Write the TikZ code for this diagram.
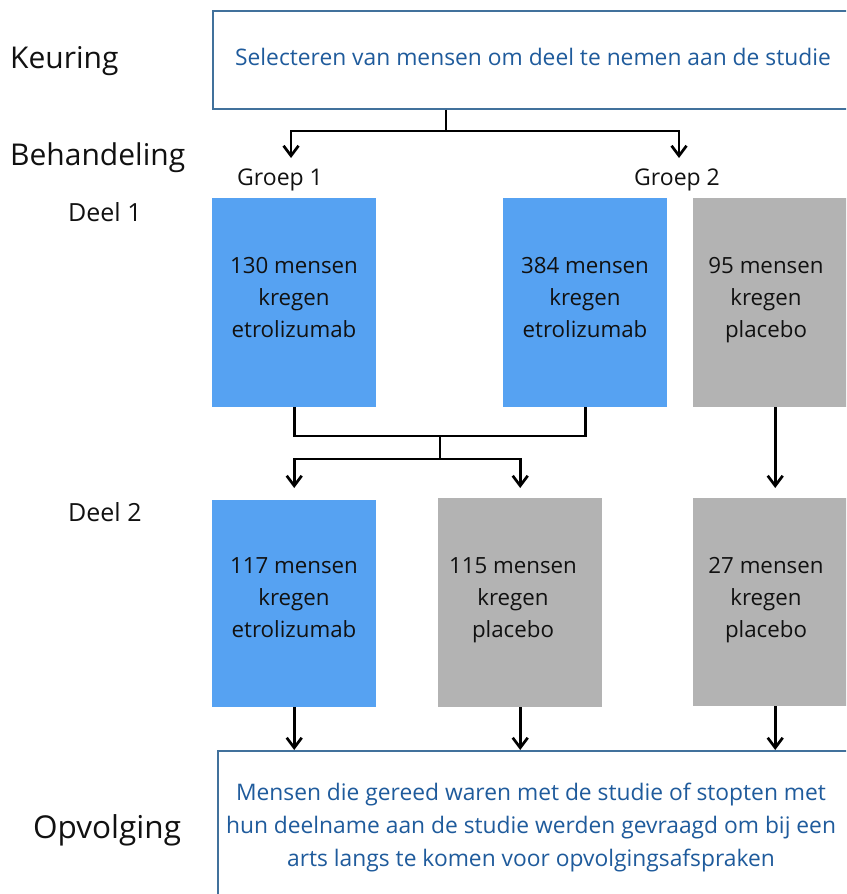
\documentclass[tikz,border=0pt]{standalone}
\usepackage{fontspec}
\setmainfont{Open Sans}
\usetikzlibrary{arrows.meta}
\definecolor{bluebox}{HTML}{56A2F2}
\definecolor{graybox}{HTML}{B3B3B3}
\definecolor{frame}{HTML}{41719C}
\definecolor{bluetext}{HTML}{1F5B9C}
\definecolor{ink}{HTML}{111111}
\begin{document}
\begin{tikzpicture}[x=1pt,y=-1pt,
  bbox/.style={fill=bluebox, minimum width=164pt, minimum height=209pt, inner sep=0pt, anchor=north west},
  gbox/.style={fill=graybox, minimum width=164pt, minimum height=209pt, inner sep=0pt, anchor=north west},
  frbox/.style={draw=frame, line width=1.6pt, fill=white, inner sep=0pt, anchor=north west},
  boxtxt/.style={text=ink, align=center, inner sep=0pt, font=\fontsize{22.3}{32}\selectfont},
  bluetxt/.style={text=bluetext, align=center, inner sep=0pt, font=\fontsize{22.8}{33}\selectfont},
  biglbl/.style={text=ink, anchor=west, inner sep=0pt, font=\fontsize{30}{34}\selectfont},
  smlbl/.style={text=ink, anchor=west, inner sep=0pt, font=\fontsize{23}{26}\selectfont},
  conn/.style={line width=2.7pt, draw=black},
  arr/.style={conn, -{Straight Barb[length=10pt,width=15pt,line width=2.7pt]}}
]
\useasboundingbox (0,0) rectangle (846,894);
\clip (0,0) rectangle (846,894);
\fill[white] (0,0) rectangle (846,894);

% top box
\node[frbox, minimum width=660pt, minimum height=98pt] (top) at (212,10) {};
\node[bluetxt] (toptxt) at (533,57) {Selecteren van mensen om deel te nemen aan de studie};

% labels
\node[biglbl] (keuring) at (10,61) {Keuring};
\node[biglbl] (behandeling) at (10,158) {Behandeling};
\node[smlbl] (groep1) at (237,180) {Groep 1};
\node[smlbl] (groep2) at (634,180) {Groep 2};
\node[smlbl, font=\fontsize{25}{28}\selectfont] (deel1) at (68,212) {Deel 1};
\node[smlbl, font=\fontsize{25}{28}\selectfont] (deel2) at (68,512) {Deel 2};
\node[biglbl, font=\fontsize{31.5}{34}\selectfont] (opvolging) at (33,830) {Opvolging};

% row 1
\node[bbox] (A) at (212,198) {};
\node[bbox] (B) at (503,198) {};
\node[gbox] (C) at (693,198) {};
\node[boxtxt] (Atxt) at (294,298) {130 mensen\\kregen\\etrolizumab};
\node[boxtxt] (Btxt) at (585,298) {384 mensen\\kregen\\etrolizumab};
\node[boxtxt] (Ctxt) at (766,300.5) {95 mensen\\kregen\\placebo};

% row 2
\node[bbox, minimum height=207pt] (D) at (212,500) {};
\node[gbox, minimum height=209pt] (E) at (438,498) {};
\node[gbox, minimum height=208pt] (F) at (693,498) {};
\node[boxtxt] (Dtxt) at (294,598) {117 mensen\\kregen\\etrolizumab};
\node[boxtxt] (Etxt) at (513,600.5) {115 mensen\\kregen\\placebo};
\node[boxtxt] (Ftxt) at (766,600.5) {27 mensen\\kregen\\placebo};

% bottom box
\node[frbox, minimum width=660pt, minimum height=170pt] (bot) at (217,750) {};
\node[bluetxt] (bottxt) at (531,828) {Mensen die gereed waren met de studie of stopten met\\hun deelname aan de studie werden gevraagd om bij een\\arts langs te komen voor opvolgingsafspraken};

% connectors top
\coordinate (s1) at (446,131);
\coordinate (g1) at (291,158);
\coordinate (g2) at (679,158);
\draw[conn] (top.south -| s1) -- (s1);
\draw[arr] (s1) -| (g1);
\draw[arr] (s1) -| (g2);

% connectors row1 -> row2
\coordinate (j1) at (440,436);
\coordinate (j2) at (440,459);
\draw[conn] (A.south) |- (j1) -| (B.south);
\draw[conn] (j1) -- (j2);
\draw[arr, shorten >=12pt] (j2) -| (D.north);
\draw[arr, shorten >=10pt] (j2) -| (E.north);
\draw[arr, shorten >=10pt] (C.south) -- (F.north);

% connectors row2 -> bottom
\draw[arr] (D.south) -- (D.south |- bot.north);
\draw[arr] (E.south) -- (E.south |- bot.north);
\draw[arr] (F.south) -- (F.south |- bot.north);
\end{tikzpicture}
\end{document}
